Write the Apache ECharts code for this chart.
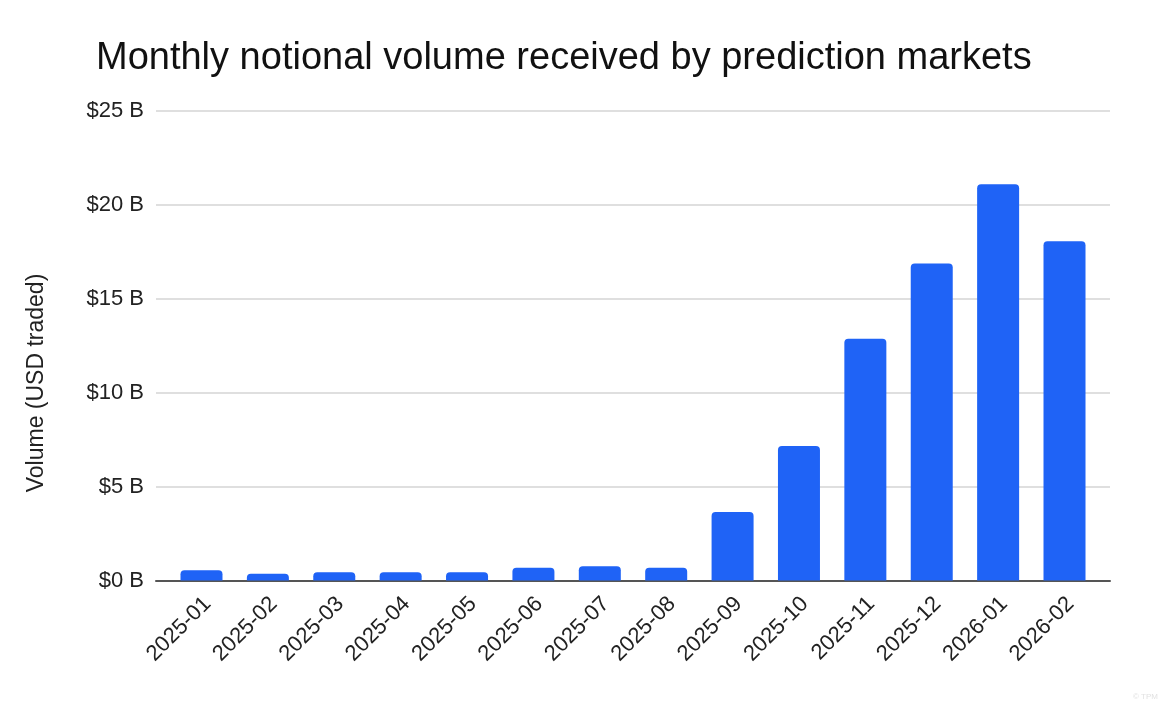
<!DOCTYPE html>
<html>
<head>
<meta charset="utf-8">
<script src="https://cdn.jsdelivr.net/npm/echarts@6/dist/echarts.min.js"></script>
<style>
html,body{margin:0;padding:0;background:#fff;}
#chart{width:1162px;height:701px;}
</style>
</head>
<body>
<div id="chart"></div>
<script>
const categories = ['2025-01','2025-02','2025-03','2025-04','2025-05','2025-06','2025-07','2025-08','2025-09','2025-10','2025-11','2025-12','2026-01','2026-02'];
const volumeB = [0.55, 0.36, 0.44, 0.44, 0.44, 0.68, 0.76, 0.68, 3.65, 7.16, 12.87, 16.88, 21.1, 18.07];
const yTicks = [0, 5, 10, 15, 20, 25];

const font = 'Liberation Sans, Arial, sans-serif';
const chart = echarts.init(document.getElementById('chart'));
chart.setOption({
  backgroundColor: '#ffffff',
  animation: false,
  title: {
    text: 'Monthly notional volume received by prediction markets',
    left: 91, top: 35,
    textStyle: { fontFamily: font, fontSize: 38, fontWeight: 'normal', color: '#111' }
  },
  grid: [
    { left: 156, right: 52, top: 111, bottom: 120.5 },
    { left: 168.3, right: 64.3, top: 111, bottom: 120.5 },
    { left: 174.3, right: 58.3, top: 111, bottom: 120.5 }
  ],
  xAxis: [
    { gridIndex: 0, type: 'value', min: 0, max: 1,
      axisLine: { show: true, lineStyle: { color: '#555', width: 2 } },
      axisTick: { show: false }, axisLabel: { show: false }, splitLine: { show: false } },
    { gridIndex: 1, type: 'category', data: categories,
      axisLine: { show: false }, axisTick: { show: false }, axisLabel: { show: false } },
    { gridIndex: 2, type: 'category', data: categories,
      axisLine: { show: false }, axisTick: { show: false },
      axisLabel: { rotate: 45, fontFamily: font, fontSize: 22, color: '#222', margin: 20, interval: 0 } }
  ],
  yAxis: [
    { gridIndex: 0, type: 'value', min: 0, max: 25, interval: 5,
      axisLine: { show: false }, axisTick: { show: false },
      axisLabel: { fontFamily: font, fontSize: 22, color: '#222', margin: 12,
        formatter: v => yTicks.includes(v) ? '$' + v + ' B' : '' },
      splitLine: { lineStyle: { color: '#d4d4d4', width: 1.5 } } },
    { gridIndex: 1, type: 'value', min: 0, max: 25, interval: 5, show: false, splitLine: { show: false } },
    { gridIndex: 2, type: 'value', min: 0, max: 25, interval: 5, show: false, splitLine: { show: false } }
  ],
  graphic: [
    { type: 'text', x: 37, y: 383, rotation: Math.PI / 2,
      style: { text: 'Volume (USD traded)', fontFamily: font, fontSize: 23, fill: '#222',
        align: 'center', verticalAlign: 'middle' } },
    { type: 'text', right: 4, bottom: 0,
      style: { text: '© TPM', fontFamily: font, fontSize: 8, fill: '#e2e2e2' } }
  ],
  series: [{
    type: 'bar', xAxisIndex: 1, yAxisIndex: 1,
    data: volumeB, barWidth: 42,
    itemStyle: { color: '#1f63f6', borderRadius: [4, 4, 0, 0] }
  }]
});
</script>
</body>
</html>
